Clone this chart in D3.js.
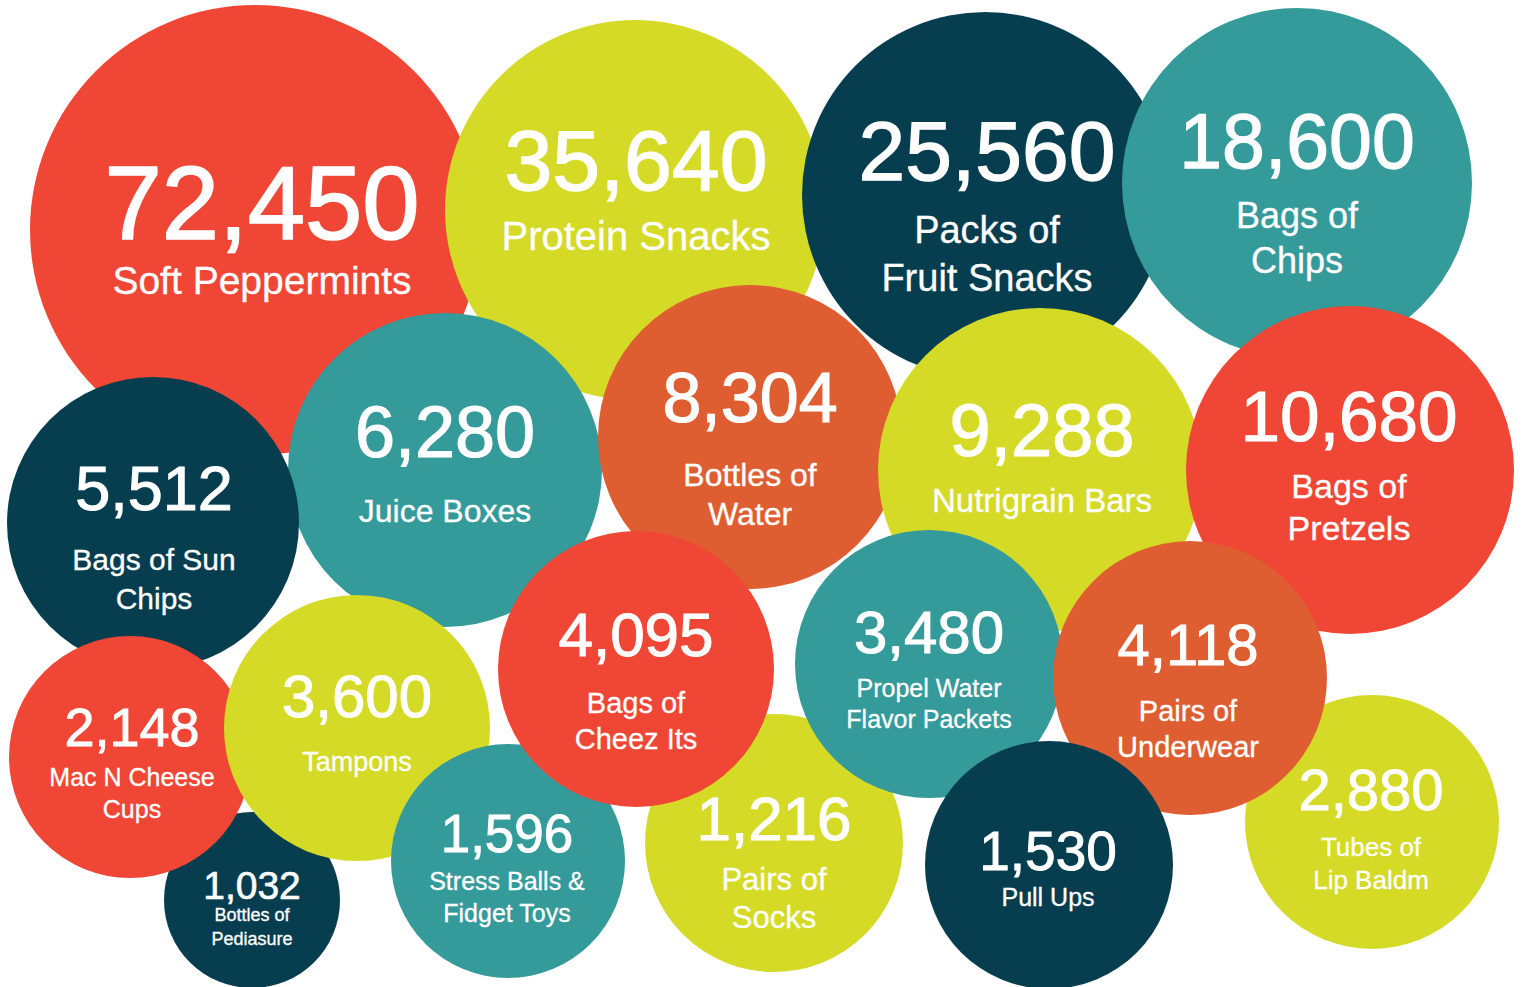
<!DOCTYPE html>
<html>
<head>
<meta charset="utf-8">
<script src="https://cdn.jsdelivr.net/npm/d3@7"></script>
<style>
	html, body { margin: 0; padding: 0; background: #ffffff; }
	svg { display: block; }
</style>
</head>
<body>
<script>
// donation totals, one entry per bubble
var values = [72450, 35640, 25560, 18600, 5512, 6280, 8304, 9288, 10680,
	2148, 3600, 4095, 3480, 4118, 1032, 1596, 1216, 1530, 2880];

var labels = [
	["Soft Peppermints"],
	["Protein Snacks"],
	["Packs of", "Fruit Snacks"],
	["Bags of", "Chips"],
	["Bags of Sun", "Chips"],
	["Juice Boxes"],
	["Bottles of", "Water"],
	["Nutrigrain Bars"],
	["Bags of", "Pretzels"],
	["Mac N Cheese", "Cups"],
	["Tampons"],
	["Bags of", "Cheez Its"],
	["Propel Water", "Flavor Packets"],
	["Pairs of", "Underwear"],
	["Bottles of", "Pediasure"],
	["Stress Balls &", "Fidget Toys"],
	["Pairs of", "Socks"],
	["Pull Ups"],
	["Tubes of", "Lip Baldm"]
];

// hand placed layout (design units, 1525 x 987 canvas)
var layoutX = [255, 635, 985, 1297, 153, 445, 750, 1040, 1350, 130, 357, 636, 929, 1190, 252, 508, 774, 1049, 1372];
var layoutY = [230, 210, 195, 183, 523, 470, 437, 470, 470, 757, 728, 669, 664, 678, 900, 861, 843, 865, 822];
var layoutR = [225, 190, 183, 175, 146, 157, 152, 162, 164, 121, 133, 138, 134, 137, 88, 117, 129, 124, 127];
var textDx  = [7, 1, 2, 0, 1, 0, 0, 2, -1, 2, 0, 0, 0, -2, 0, -1, 0, -1, -1];
var numSize = [103, 86, 84, 77, 63, 72, 70, 74, 71, 54, 60, 62, 60, 58, 39, 53, 62, 55, 58];
var labSize = [39, 40, 38, 36, 30, 32, 32, 33, 34, 25, 27, 29, 25, 29, 18, 25, 31, 25, 26];
var numDy   = [9, -20, -15, -15, -13, -13, -15, -14, -29, -11, -11, -13, -11, -13, -1, -9, -3, 5, -12];
var labDy   = [[64], [40], [48, 96], [45, 90], [47, 86], [52], [49, 88], [42], [28, 70],
	[29, 61], [43], [44, 80], [33, 64], [43, 79], [21, 45], [29, 61], [47, 85], [41], [34, 67]];

var palette = {red: "#ef4636", lime: "#d4da26", navy: "#063e4f", teal: "#359a9a", orange: "#de5e31"};
var fills = ["red", "lime", "navy", "teal", "navy", "teal", "orange", "lime", "red",
	"red", "lime", "red", "teal", "orange", "navy", "teal", "lime", "navy", "lime"];

// stacking order, back to front
var drawOrder = [0, 1, 2, 3, 5, 4, 6, 7, 8, 14, 9, 10, 15, 16, 11, 12, 18, 13, 17];

var w = 1525;
var h = 987;

var xScale = d3.scaleLinear().domain([0, 1525]).range([0, w]);
var yScale = d3.scaleLinear().domain([0, 987]).range([0, h]);
var fmt = d3.format(",");

var dataset = drawOrder.map(function(i){
	return {
		value: values[i],
		label: labels[i],
		x: layoutX[i], y: layoutY[i], r: layoutR[i],
		dx: textDx[i], ns: numSize[i], ls: labSize[i],
		ndy: numDy[i], ldy: labDy[i],
		fill: palette[fills[i]]
	};
});

var svg = d3.select("body")
	.append("svg")
	.attr("width", w)
	.attr("height", h)
	.style("font-family", "'Liberation Sans', Arial, sans-serif");

var bubble = svg.selectAll(".bubble")
	.data(dataset)
	.enter()
	.append("g")
	.attr("class", "bubble");

bubble.append("circle")
	.attr("cx", function(d){ return xScale(d.x); })
	.attr("cy", function(d){ return yScale(d.y); })
	.attr("r", function(d){ return xScale(d.r); })
	.attr("fill", function(d){ return d.fill; });

bubble.append("text")
	.attr("x", function(d){ return xScale(d.x + d.dx); })
	.attr("y", function(d){ return yScale(d.y + d.ndy); })
	.attr("text-anchor", "middle")
	.attr("fill", "white")
	.attr("stroke", "white")
	.attr("stroke-width", function(d){ return d.ns / 60; })
	.attr("font-size", function(d){ return d.ns; })
	.text(function(d){ return fmt(d.value); });

bubble.each(function(d){
	var g = d3.select(this);
	g.selectAll(".lab")
		.data(d.label)
		.enter()
		.append("text")
		.attr("class", "lab")
		.attr("x", xScale(d.x + d.dx))
		.attr("y", function(t, j){ return yScale(d.y + d.ldy[j]); })
		.attr("text-anchor", "middle")
		.attr("fill", "white")
		.attr("stroke", "white")
		.attr("stroke-width", 0.3)
		.attr("font-size", d.ls)
		.text(function(t){ return t; });
});
</script>
</body>
</html>
